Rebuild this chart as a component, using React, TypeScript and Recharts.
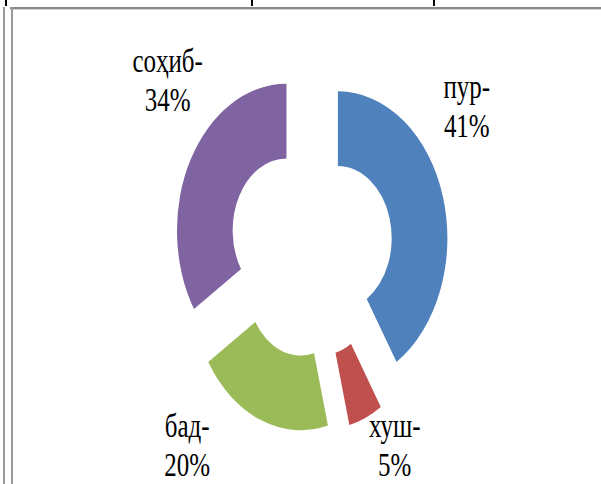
import React from 'react';
import { PieChart, Pie, Cell } from 'recharts';

// ---- data ----
const CATEGORIES = ['пур', 'хуш', 'бад', 'соҳиб'];
const VALUES = [41, 5, 20, 34];
const COLORS = ['#4F81BD', '#C0504D', '#9BBB59', '#8064A2'];

// ---- layout / style ----
const SCALE_Y = 1.34; // the original picture is stretched vertically
const CHART_W = 601;
const CHART_H = 484 / SCALE_Y;
const EXPLODE = 28;
const LINE_GAP = 29;
const LABEL_NUDGE = [
  { dx: -20.8, dy: -46.7 },
  { dx: 10.7, dy: -13.5 },
  { dx: -56.1, dy: -15.7 },
  { dx: 17.8, dy: -28.4 },
];

const data = CATEGORIES.map((name, i) => ({ name, value: VALUES[i] }));
const total = VALUES.reduce((a, b) => a + b, 0);

const offsets = (() => {
  let cum = 0;
  return VALUES.map((v) => {
    const mid = 90 - ((cum + v / 2) / total) * 360;
    cum += v;
    const rad = (mid * Math.PI) / 180;
    return { dx: EXPLODE * Math.cos(rad), dy: -EXPLODE * Math.sin(rad) };
  });
})();

const renderLabel = (props: any) => {
  const { cx, cy, midAngle, outerRadius, index } = props;
  const rad = (midAngle * Math.PI) / 180;
  const rho = outerRadius + 29.4 + 45;
  const x = cx + rho * Math.cos(rad) + LABEL_NUDGE[index].dx;
  const y = cy - rho * Math.sin(rad) + LABEL_NUDGE[index].dy;
  return (
    <text
      key={`lbl-${index}`}
      x={x}
      y={y}
      textAnchor="middle"
      fontFamily="'Liberation Serif', 'Times New Roman', serif"
      fontSize={25}
      fill="#000"
    >
      <tspan x={x} y={y - LINE_GAP / 2}>{CATEGORIES[index]}-</tspan>
      <tspan x={x} y={y + LINE_GAP / 2}>{VALUES[index]}%</tspan>
    </text>
  );
};

const line = (style: React.CSSProperties) => (
  <div style={{ position: 'absolute', ...style }} />
);

export default function App() {
  return (
    <div
      style={{
        position: 'relative',
        width: 601,
        height: 484,
        background: '#ffffff',
        overflow: 'hidden',
      }}
    >
      <style>{`body{margin:0}`}</style>
      {line({ left: 10, top: 7, width: 591, height: 2, background: '#8a8a8a' })}
      {line({ left: 10, top: 9, width: 591, height: 1, background: '#d4d4d4' })}
      {line({ left: 3, top: 7, width: 2, height: 477, background: '#9a9a9a' })}
      {line({ left: 11, top: 7, width: 2, height: 477, background: '#9a9a9a' })}
      {line({ left: 5, top: 0, width: 2, height: 6, background: '#000' })}
      {line({ left: 251, top: 0, width: 2, height: 6, background: '#000' })}
      {line({ left: 433, top: 0, width: 2, height: 6, background: '#000' })}
      <div
        style={{
          position: 'absolute',
          left: 0,
          top: 0,
          width: CHART_W,
          height: CHART_H,
          transform: `scale(1, ${SCALE_Y})`,
          transformOrigin: '0 0',
        }}
      >
        <PieChart width={CHART_W} height={CHART_H}>
          <Pie
            data={data}
            dataKey="value"
            nameKey="name"
            cx={306}
            cy={180.5}
            innerRadius={53.8}
            outerRadius={109.5}
            startAngle={90}
            endAngle={-270}
            stroke="none"
            isAnimationActive={false}
            labelLine={false}
            label={renderLabel}
          >
            {data.map((d, i) => (
              <Cell
                key={d.name}
                fill={COLORS[i]}
                stroke="none"
                transform={`translate(${offsets[i].dx}, ${offsets[i].dy})`}
              />
            ))}
          </Pie>
        </PieChart>
      </div>
    </div>
  );
}
